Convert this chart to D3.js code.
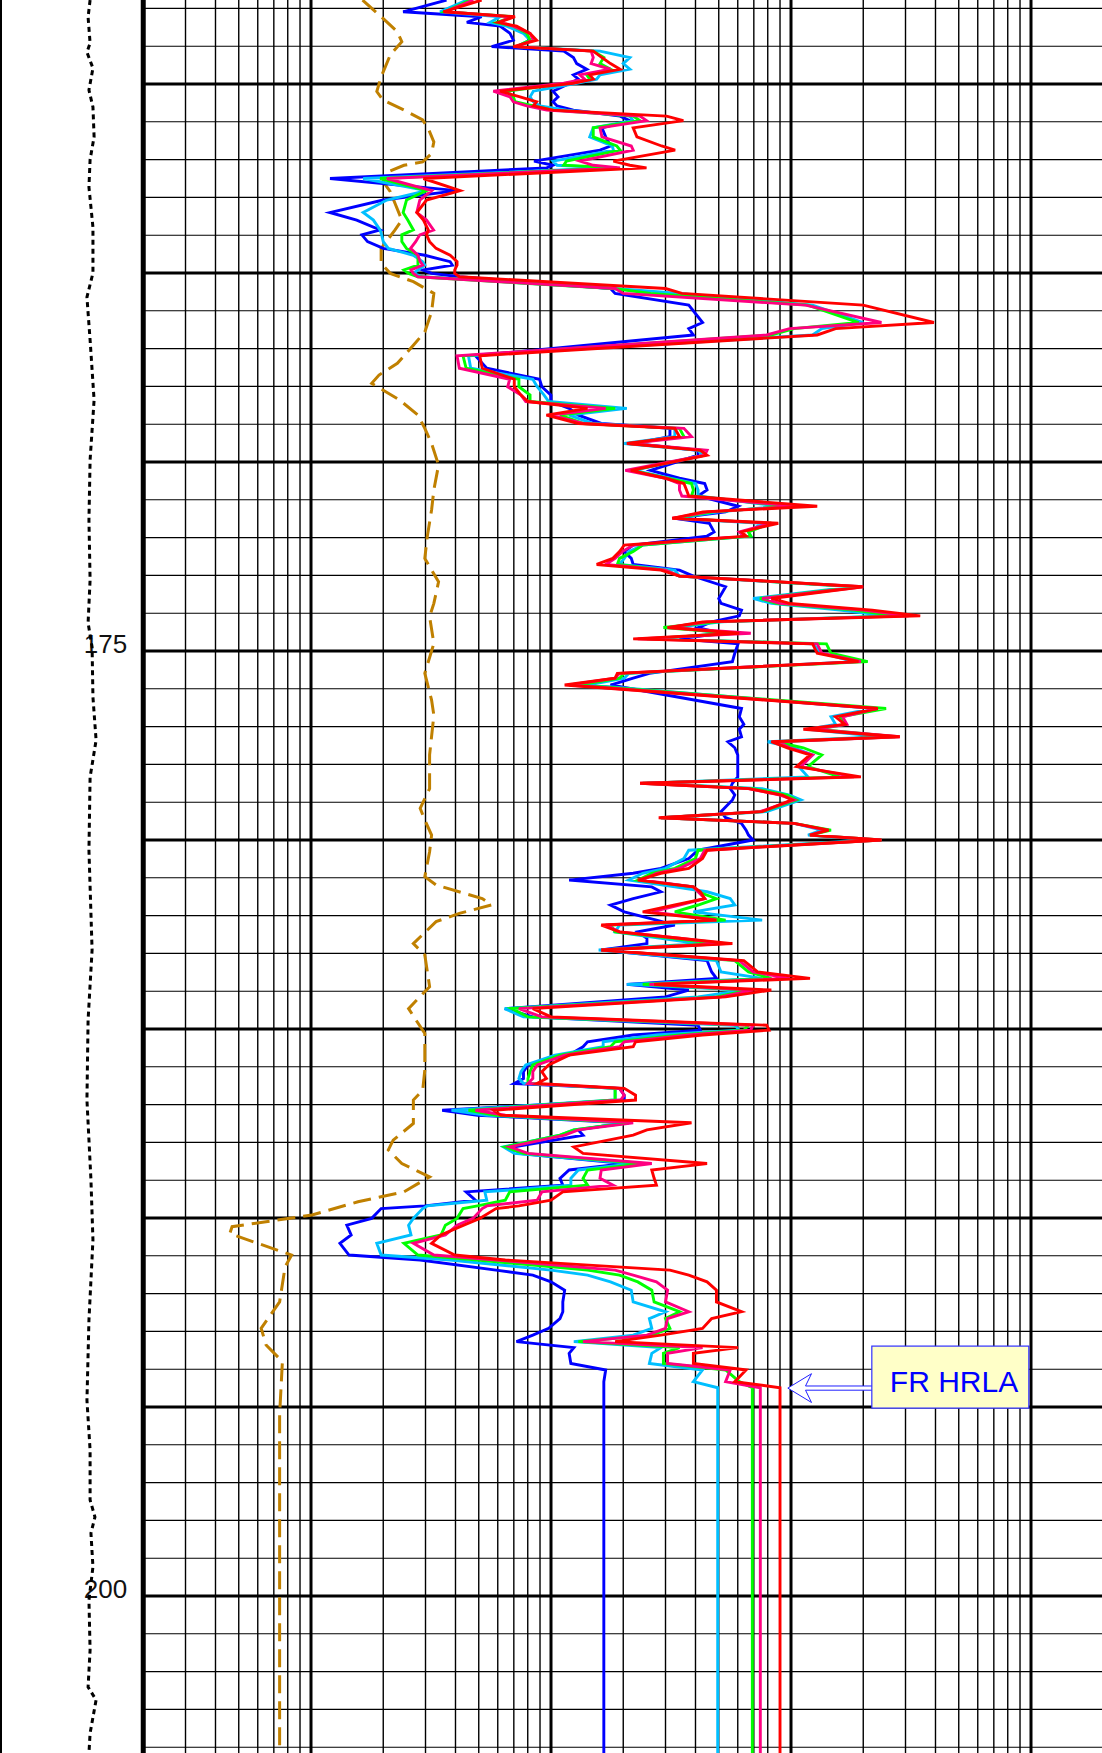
<!DOCTYPE html>
<html><head><meta charset="utf-8">
<script src="https://cdn.jsdelivr.net/npm/d3@7"></script>
<style>html,body{margin:0;padding:0;background:#fff}svg{display:block}</style>
</head><body>
<svg id="chart" width="1102" height="1753"></svg>
<script>
// ---------------- DATA ----------------
// Depth (m) of shared sample points of the HRLA resistivity curves
const depth = [
157.78,158.09,158.22,158.37,158.47,158.66,158.84,159.01,159.13,159.30,
159.46,159.61,159.76,159.87,159.98,160.19,160.34,160.47,160.58,160.69,
160.85,160.97,161.16,161.40,161.64,161.75,162.04,162.15,162.22,162.50,
162.82,163.07,163.40,163.60,163.86,163.99,164.17,164.35,164.53,164.70,
164.79,164.92,165.01,165.10,165.41,165.54,165.85,166.31,166.47,166.64,
167.19,167.52,167.81,168.01,168.23,168.40,168.58,168.76,168.98,169.11,
169.33,169.51,169.69,169.82,170.22,170.43,170.57,170.74,170.90,171.17,
171.32,171.49,171.62,171.85,171.96,172.20,172.37,172.55,172.71,172.86,
173.02,173.30,173.61,173.74,173.92,174.07,174.23,174.38,174.53,174.68,
174.81,175.06,175.28,175.59,175.72,175.90,176.52,176.74,176.94,177.07,
177.27,177.40,177.56,177.75,178.06,178.33,178.50,178.64,178.81,178.94,
179.25,179.41,179.56,179.74,179.87,180.00,180.27,180.49,180.75,180.88,
181.06,181.24,181.37,181.55,181.72,181.90,182.12,182.25,182.43,182.60,
182.74,182.91,183.19,183.49,183.66,183.82,183.97,184.15,184.46,184.68,
184.90,185.03,185.16,185.34,185.47,185.69,185.95,186.13,186.31,186.44,
186.57,186.75,186.88,187.15,187.28,187.48,187.67,187.81,188.12,188.29,
188.56,188.73,188.95,189.13,189.31,189.53,189.68,189.75,190.01,190.19,
190.45,190.67,190.98,191.11,191.38,191.51,191.69,191.91,192.22,192.48,
192.66,192.92,193.10,193.27,193.43,193.58,193.85,194.02,194.33,194.49,
204.2];

// RLA1 (blue)
const rla1 = [
36.7,24.2,51.4,44.6,61.3,67.5,69.7,56.6,113,124,
128,141,124,130,120,102,107,102,106,124,
194,213,163,169,177,160,85,102,96,12.0,
40.5,20.0,12.0,15.5,19.4,16.3,17.2,20,29.8,38,
38.8,29.2,31.8,41.5,177,185,375,428,375,392,
48.4,54,89.6,91.6,100,100,119,130,162,313,
313,220,410,410,260,343,437,447,410,602,
534,328,457,478,447,220,202,216,220,343,
392,534,500,511,622,609,467,410,511,343,
602,583,570,257,220,177,622,609,636,609,
622,546,583,600,600,600,570,558,583,570,
511,534,622,650,665,695,410,375,287,220,
119,263,287,220,177,202,275,328,230,251,
251,162,447,467,489,207,375,300,64.5,84,
410,419,220,142,136,119,80.2,76.8,76.8,70.3,
193,202,202,35.2,49.4,202,130,136,70.3,73.5,
202,119,109,112,44.3,48.4,29.8,19.6,17.9,14.1,
14.7,13.2,14.4,28.5,59,84,100,114,112,112,
109,97.8,84,71.8,124.5,119,121,169,166,166,
166];

// RLA2 (cyan)
const rla2 = [
44.6,34.5,61.3,55.7,65.3,76.7,81.8,71.9,160,213,
200,213,160,155,128,84.4,81.8,84.4,90,116,
213,220,150,145,180,182,102,106,171,16.5,
30.3,20.7,16.5,18.2,19.4,19.7,20,21,26.7,29.2,
29.8,27.9,26.7,29.2,185,343,1230,1998,1344,1230,
45.3,46.3,84,87.6,93.6,97.8,207,119,149,328,
328,202,410,428,222,313,400,410,410,900,
500,328,758,665,680,241,211,202,193,328,
343,1830,695,828,1600,2489,511,328,534,275,
1230,1344,1830,211,202,142,2200,1468,1534,1177,
2382,800,1030,1230,1078,1177,251,758,986,1100,
792,287,1030,1344,1177,2181,375,358,300,241,
211,328,447,558,583,392,758,193,185,287,
410,158,489,511,758,207,636,410,64,76.8,
583,609,275,165,165,104,78.5,75,73.5,76.8,
185,185,185,38.5,54,211,124.5,109,63.4,70.3,
220,130,121,121,53,54,30.5,29.2,26.7,25.5,
26.1,18.8,19.6,38,100,142,177,216,220,300,
257,263,220,124.5,287,263,257,428,392,495,
495];

// RLA3 (green)
const rla3 = [
46,36.1,69.7,59.4,69.7,79.2,81.8,71.9,150,166,
160,177,141,145,116,65.3,69.7,70.8,84.4,102,
220,235,150,150,188,194,116,113,188,19.4,
30.3,25.0,24.2,25.3,26.7,23.9,23.9,25,27.9,27.9,
27.9,24.4,25.5,27.9,181,260,1177,1912,1030,828,
43,44.3,73.5,73.5,81.8,81.8,185,109,136,343,
358,211,428,437,216,306,385,392,385,986,
470,328,828,665,680,241,220,193,189,300,
343,1912,742,865,1830,2720,489,294,583,251,
1405,1468,2088,202,193,130,2490,1600,1676,1286,
2720,865,1126,1344,1177,1600,241,695,965,1054,
758,287,1030,1468,1200,2382,410,400,328,263,
230,392,410,489,410,328,534,177,185,320,
489,162,583,665,828,241,665,489,68.6,80.2,
665,636,343,185,177,109,84,81.8,80.2,80.2,
185,185,185,45.3,59,211,124.5,109,64.5,76.8,
241,142,136,142,67.3,64.5,49.4,43,40.6,36.3,
34.8,24.4,27.9,49.4,142,193,230,263,269,343,
300,313,263,130,343,294,294,534,609,690,
690];

// RLA4 (pink)
const rla4 = [
47.5,36.1,67.5,61.3,69.7,81.8,84.4,71.9,147,150,
147,177,132,138,113,57.5,67.5,69.7,79.2,96,
235,250,160,163,216,220,132,150,194,20.7,
31.8,28.4,27.6,30.3,32.4,28.4,27.3,26,27.9,28.5,
29.2,26.1,26.7,27.9,185,200,1150,2382,986,792,
40.6,41.5,67.3,66,75,78.5,169,100,136,358,
385,211,447,437,204,300,343,343,351,1078,
450,320,828,609,636,220,198,185,169,300,
343,1998,758,900,1998,3094,447,306,680,230,
1286,1344,1955,193,185,119,2300,1640,1710,1230,
2840,885,986,1230,1100,1830,235,665,900,1030,
742,287,1030,1405,1200,2382,437,419,343,275,
241,392,410,437,343,263,489,169,193,343,
534,162,609,695,986,257,695,511,73.5,91.6,
695,680,375,202,193,114,87.6,84,84,80.2,
193,202,195,48.4,64.5,220,130,114,67.3,80.2,
263,162,160,181,91.6,87.6,54,51.7,47.3,40.6,
36.3,26.7,32.5,59,185,220,275,306,300,375,
306,300,251,136,428,306,306,558,534,745,
745];

// RLA5 (red)
const rla5 = [
51.4,35.6,70.8,60.4,71.9,81.8,87.1,69.7,150,163,
177,194,145,150,124,61.3,74.3,87.1,84.4,102,
303,356,220,228,289,329,182,213,250,29.4,
41.8,30.3,27.6,29.4,30.8,30.3,31.2,33.2,38,40.6,
40.6,39.7,39.7,41.5,300,351,1998,3940,1534,1286,
50.5,51.7,70.3,70.3,75,80.2,142,95.7,130,328,
343,207,419,447,215,300,358,367,375,1286,
430,320,885,622,650,202,193,181,155,287,
343,1998,828,986,2181,3455,428,306,609,220,
1230,1286,1912,189,185,114,2300,1534,1676,1126,
2840,828,965,1200,1054,1955,235,665,920,1008,
758,281,1030,1436,1200,2382,447,428,375,287,
230,392,419,437,328,241,489,162,193,343,
570,162,636,726,1200,269,828,534,84,100,
792,810,428,225,220,119,97.8,91.6,95.7,87.6,
202,225,225,57.6,61.6,385,251,220,124.5,136,
447,263,269,275,112,100,73.5,59,50.5,43.3,
34.8,31.8,39.7,64.5,313,375,447,489,489,622,
467,428,287,185,602,392,392,650,583,900,
900];

// Dashed brown curve (same log scale)
const dashDepth = [157.78,158.22,158.62,158.88,159.23,159.81,160.2,160.43,160.69,160.95,
161.22,161.53,161.84,162.06,162.15,162.32,162.59,162.85,163.16,163.60,
163.86,164.35,164.75,165.01,165.23,165.54,166.03,166.56,166.91,167.39,
167.70,167.92,168.10,168.36,168.76,169.11,169.51,170.08,170.74,171.27,
171.98,172.55,173.17,173.74,174.09,174.80,175.59,176.30,176.70,177.75,
178.64,179.16,179.47,179.87,180.31,180.97,181.19,181.55,181.72,181.94,
182.16,182.74,183.04,183.88,184.46,185.12,186.09,186.62,186.88,187.5,
187.94,188.2,188.56,188.91,189.31,189.57,189.92,190.23,190.41,190.67,
190.98,191.29,192.22,192.92,193.36,193.8,195.2,204.2];
const dashVal = [16.4,19.6,22.9,23.9,21.4,19.6,18.8,20.0,24.4,29.2,
31,32.5,31.8,29.2,24.4,21,20.0,21.4,22.4,23.9,
22.4,19.6,19.6,21.4,26.7,32.5,31.8,29.8,26.7,22.9,
19.2,17.9,20,23.4,27.9,29.8,31.8,34,32.5,31.8,
30.5,29.8,34,32.5,31.2,32.5,29.8,31.8,32.5,31.2,
31.2,28.5,29.8,31.8,31.2,29.8,33.2,51.7,56.5,41.5,
33.2,26.7,29.8,31.2,25.5,29.8,29.8,29.2,26.7,26.7,
22,21.0,23.9,31.2,24.4,15.7,10.1,4.69,4.59,6.0,
8.3,7.8,7.4,6.2,6.5,7.6,7.4,7.4];

// Dotted curve in the depth track (linear scale 0-50)
const dotDepth = [157.78,158.23,158.92,159.16,159.58,160.16,160.61,161.4,162.0,162.73,
163.79,165.0,165.64,166.77,168.36,169.95,171.54,173.12,174.26,174.9,
176.22,177.36,178.34,180.27,182.91,184.76,186.88,188.99,190.58,192.7,
194.82,196.14,197.46,197.91,198.34,199.23,200.11,201.43,202.41,202.75,
203.63,204.16];
const dotVal = [31.5,30.8,31.5,30.4,32.5,31.1,32.5,32.9,31.5,31.1,
32.5,32.5,30.4,31.5,32.9,31.5,31.1,31.5,30.8,32.2,
32.5,33.6,31.5,31.1,32.2,30.8,30.4,31.8,32.5,31.1,
30.4,31.5,31.5,33.2,31.8,32.5,31.1,31.5,30.8,33.6,
31.5,31.1];

const depthLabels = [175, 200];
const annotText = "FR HRLA";
const annotDepth = 194.5;
const annotValue = 970;

// ---------------- DRAW ----------------
const W = 1102, H = 1753;
const svg = d3.select('#chart');
const y = d3.scaleLinear().domain([175, 200]).range([651, 1596]);
const x = d3.scaleLog().domain([10, 10000]).range([311, 1031]);
const xTrack1 = d3.scaleLinear().domain([0, 50]).range([0, 143]);
const trackLeft = x(2);
const dTop = y.invert(0), dBot = y.invert(H);

// horizontal depth grid
const hDepths = d3.range(Math.ceil(dTop), Math.floor(dBot) + 1);
svg.append('g').selectAll('line').data(hDepths).join('line')
  .attr('x1', trackLeft).attr('x2', W)
  .attr('y1', d => y(d)).attr('y2', d => y(d))
  .attr('stroke', '#000').attr('stroke-width', d => d % 5 === 0 ? 3 : 1.1);

// vertical log grid
const vVals = [];
for (let e = 0; e <= 4; e++) for (let m = 1; m <= 9; m++) {
  const v = m * Math.pow(10, e);
  if (v > 2 && v < 20000) vVals.push({v, major: m === 1});
}
svg.append('g').selectAll('line').data(vVals).join('line')
  .attr('x1', d => x(d.v)).attr('x2', d => x(d.v))
  .attr('y1', 0).attr('y2', H)
  .attr('stroke', '#000').attr('stroke-width', d => d.major ? 3 : 1.4);

// track borders
svg.append('line').attr('x1', trackLeft).attr('x2', trackLeft).attr('y1', 0).attr('y2', H)
  .attr('stroke', '#000').attr('stroke-width', 5);
svg.append('line').attr('x1', 1).attr('x2', 1).attr('y1', 0).attr('y2', H)
  .attr('stroke', '#000').attr('stroke-width', 2);

// depth labels
svg.append('g').selectAll('text').data(depthLabels).join('text')
  .attr('x', trackLeft - 16).attr('y', d => y(d) + 2)
  .attr('text-anchor', 'end')
  .attr('font-family', '"Liberation Sans", Arial, sans-serif')
  .attr('font-size', 26).attr('fill', '#111')
  .text(d => d);

// dotted curve in depth track
svg.append('path')
  .datum(d3.zip(dotDepth, dotVal))
  .attr('d', d3.line().x(d => xTrack1(d[1])).y(d => y(d[0])))
  .attr('fill', 'none').attr('stroke', '#000').attr('stroke-width', 3)
  .attr('stroke-dasharray', '5,4');

const logLine = d3.line().x(d => x(d[1])).y(d => y(d[0]));

// dashed brown curve
svg.append('path')
  .datum(d3.zip(dashDepth, dashVal))
  .attr('d', logLine)
  .attr('fill', 'none').attr('stroke', '#C08000').attr('stroke-width', 3)
  .attr('stroke-dasharray', '18,8');

// resistivity curves
const curves = [
  {vals: rla1, color: '#0000FF'},
  {vals: rla2, color: '#00BFFF'},
  {vals: rla3, color: '#00FF00'},
  {vals: rla4, color: '#FF0080'},
  {vals: rla5, color: '#FF0000'}
];
svg.append('g').selectAll('path').data(curves).join('path')
  .attr('d', c => logLine(d3.zip(depth, c.vals)))
  .attr('fill', 'none').attr('stroke', c => c.color)
  .attr('stroke-width', 2.9).attr('stroke-linejoin', 'miter').attr('stroke-miterlimit', 4);

// annotation
const ax = x(annotValue), ay = y(annotDepth);
const ann = svg.append('g').attr('transform', `translate(${ax},${ay})`);
ann.append('path')
  .attr('d', 'M0,0 L23.7,-14.4 L17.7,-2.1 L85,-2.1 L85,2.1 L17.7,2.1 L23.7,14.4 Z')
  .attr('fill', '#fff').attr('stroke', '#2020FF').attr('stroke-width', 1);
ann.append('rect').attr('x', 84).attr('y', -42).attr('width', 157).attr('height', 62)
  .attr('fill', '#FFFFC8').attr('stroke', '#3030FF').attr('stroke-width', 1.2);
ann.append('text').attr('x', 102).attr('y', 4)
  .attr('font-family', '"Liberation Sans", Arial, sans-serif')
  .attr('font-size', 30).attr('fill', '#0000FF')
  .text(annotText);
</script>
</body></html>
